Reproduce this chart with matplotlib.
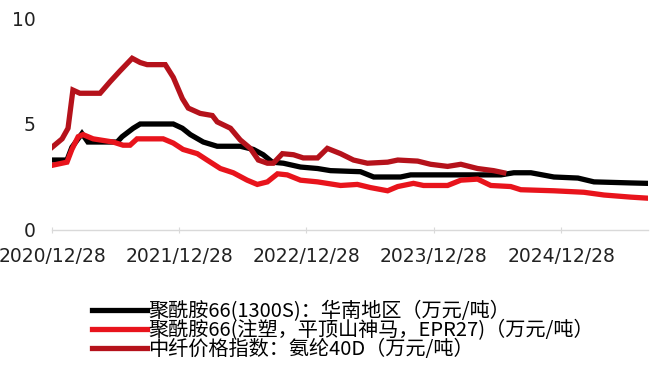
import matplotlib
matplotlib.use("Agg")
import matplotlib.pyplot as plt
import matplotlib.dates as mdates
import pandas as pd

# 数据，日期为距 2020/12/28 的天数
start = pd.Timestamp("2020-12-28")

pa66_1300s_days = [0, 43, 57, 86, 103, 187, 201, 233, 253, 348, 374, 397, 434, 474, 540, 578,
                   606, 632, 664, 713, 762, 799, 885, 923, 1000, 1029, 1288, 1325, 1374, 1440,
                   1509, 1555, 1661, 1710]
pa66_1300s = [3.3, 3.3, 3.9, 4.55, 4.15, 4.15, 4.4, 4.8, 5.0, 5.0, 4.8, 4.5, 4.15, 3.95, 3.95, 3.8,
              3.55, 3.2, 3.15, 2.97, 2.9, 2.8, 2.75, 2.5, 2.5, 2.6, 2.6, 2.7, 2.7, 2.5,
              2.45, 2.27, 2.22, 2.2]

pa66_epr27_days = [0, 43, 57, 75, 89, 118, 175, 204, 224, 244, 319, 348, 376, 417, 445, 483,
                   520, 560, 589, 618, 647, 675, 713, 762, 828, 876, 914, 963, 992, 1037, 1066,
                   1135, 1173, 1221, 1259, 1316, 1345, 1440, 1526, 1584, 1661, 1710]
pa66_epr27 = [3.05, 3.2, 3.8, 4.4, 4.5, 4.3, 4.15, 4.0, 4.0, 4.3, 4.3, 4.1, 3.8, 3.6, 3.3, 2.9,
              2.7, 2.35, 2.15, 2.27, 2.65, 2.6, 2.35, 2.27, 2.1, 2.15, 2.0, 1.85, 2.05, 2.2, 2.1,
              2.1, 2.35, 2.4, 2.1, 2.05, 1.9, 1.85, 1.78, 1.65, 1.55, 1.5]

spandex_days = [0, 29, 46, 60, 80, 138, 167, 195, 230, 253, 273, 325, 348, 374, 391, 425, 460,
                474, 512, 540, 569, 592, 618, 635, 661, 693, 721, 762, 790, 828, 865, 905, 963,
                992, 1049, 1086, 1135, 1173, 1221, 1267, 1296]
spandex = [3.9, 4.3, 4.8, 6.6, 6.45, 6.45, 7.0, 7.5, 8.1, 7.9, 7.8, 7.8, 7.2, 6.2, 5.75, 5.5, 5.4,
           5.1, 4.8, 4.25, 3.85, 3.3, 3.15, 3.15, 3.6, 3.55, 3.4, 3.4, 3.85, 3.6, 3.3, 3.15, 3.2,
           3.3, 3.25, 3.1, 3.0, 3.1, 2.9, 2.8, 2.7]

labels = ["聚酰胺66(1300S)：华南地区（万元/吨）",
          "聚酰胺66(注塑，平顶山神马，EPR27)（万元/吨）",
          "中纤价格指数：氨纶40D（万元/吨）"]
colors = ["#000000", "#E8141C", "#B5121B"]

tick_dates = ["2020-12-28", "2021-12-28", "2022-12-28", "2023-12-28", "2024-12-28"]


def to_dates(days):
    return start + pd.to_timedelta(days, unit="D")


plt.rcParams["font.family"] = ["Noto Sans CJK SC", "DejaVu Sans"]

fig = plt.figure(figsize=(6.54, 3.69), dpi=100)
ax = fig.add_axes([52 / 654, 1 - 230 / 369, 596 / 654, 212 / 369])

series = [(pa66_1300s_days, pa66_1300s), (pa66_epr27_days, pa66_epr27), (spandex_days, spandex)]
for (d, v), lab, col in zip(series, labels, colors):
    ax.plot(to_dates(d), v, color=col, lw=3.8, label=lab, solid_joinstyle="miter")

ax.set_ylim(0, 10)
ax.set_yticks([0, 5, 10])
ax.set_xlim(start, to_dates([1710])[0])
ax.set_xticks(pd.to_datetime(tick_dates))
ax.xaxis.set_major_formatter(mdates.DateFormatter("%Y/%m/%d"))

for s in ["top", "right", "left"]:
    ax.spines[s].set_visible(False)
ax.spines["bottom"].set_color("#d9d9d9")
ax.spines["bottom"].set_linewidth(1.0)
ax.tick_params(axis="y", length=0, pad=12, labelsize=13.5, labelcolor="#222222")
ax.tick_params(axis="x", length=4, direction="inout", color="#d9d9d9", pad=10,
               labelsize=13.5, labelcolor="#222222")
for t in ax.get_xticklabels() + ax.get_yticklabels():
    t.set_family("DejaVu Sans")

fig.legend(loc="upper left", bbox_to_anchor=(92 / 654, 1 - 301 / 369), frameon=False,
           fontsize=14.5, handlelength=2.75, handletextpad=0.05, labelspacing=-0.1,
           borderpad=0, borderaxespad=0)

fig.savefig("out.png", dpi=100)
